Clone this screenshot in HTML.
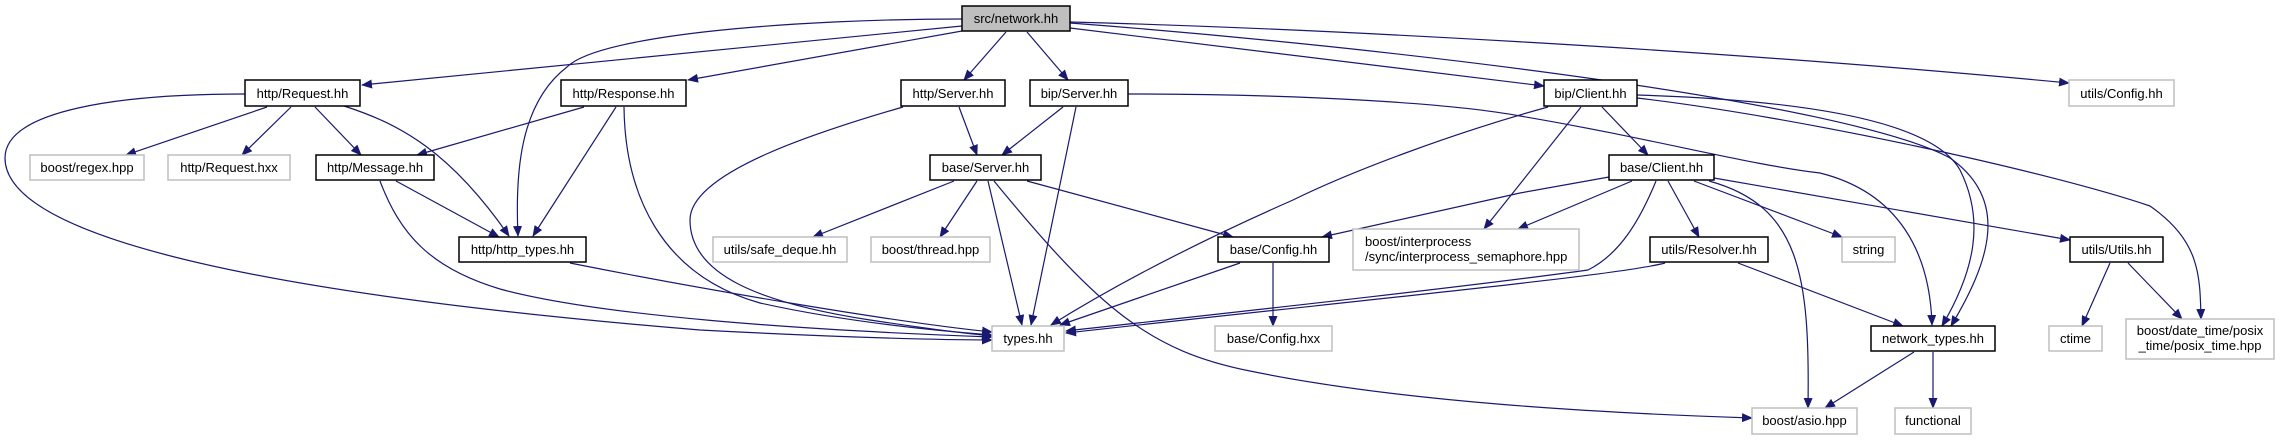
<!DOCTYPE html>
<html><head><meta charset="utf-8"><style>
html,body{margin:0;padding:0;background:#fff;}
svg{display:block;}
text{font-family:"Liberation Sans",sans-serif;font-size:13px;fill:#000;}
.e{fill:none;stroke:#191970;stroke-width:1.2;}
.b{fill:#fff;stroke:#000;stroke-width:1.5;}
.g{fill:#fff;stroke:#bfbfbf;stroke-width:1.5;}
</style></head><body>
<svg width="2293" height="440" viewBox="0 0 2293 440" xmlns="http://www.w3.org/2000/svg">
<defs>
<marker id="a" markerWidth="11" markerHeight="9" refX="10" refY="4.5" orient="auto" markerUnits="userSpaceOnUse">
<path d="M0,0 L11,4.5 L0,9 z" fill="#191970"/>
</marker>
</defs>
<g class="e" marker-end="url(#a)">
<!-- from src/network.hh -->
<path d="M962,26 L362,85"/>
<path d="M962,31 L688,80"/>
<path d="M962,19 C800,19 600,34 567,67 C520,103 515,172 518,236"/>
<path d="M1006,32 L964,80"/>
<path d="M1027,32 L1068,80"/>
<path d="M1070,28 L1544,86"/>
<path d="M1070,22 C1300,28 1700,48 2069,83"/>
<path d="M1070,23 C1400,48 1850,103 1950,158 C2010,200 1990,261 1951,326"/>
<!-- http/Request.hh -->
<path d="M267,107 L126,155"/>
<path d="M291,107 L242,155"/>
<path d="M315,107 L361,155"/>
<path d="M344,106 C400,124 450,151 509,236"/>
<path d="M245,94 C120,94 5,110 5,158 C5,227 200,289 700,330 C850,338 950,340 992,340"/>
<!-- http/Response.hh -->
<path d="M584,107 L417,155"/>
<path d="M616,107 L533,236"/>
<path d="M624,107 C625,193 660,275 760,303 C850,323 940,331 992,335"/>
<!-- http/Message.hh -->
<path d="M396,181 L499,237"/>
<path d="M380,181 C400,234 430,268 500,289 C600,316 800,330 992,337"/>
<!-- http_types -->
<path d="M570,263 C700,289 900,323 992,332"/>
<!-- http/Server.hh -->
<path d="M959,107 L977,155"/>
<path d="M903,107 C820,131 690,172 690,220 C690,275 760,303 870,320 C930,329 960,333 992,336"/>
<!-- bip/Server.hh -->
<path d="M1063,107 L1002,155"/>
<path d="M1076,107 L1031,325"/>
<path d="M1128,94 C1300,94 1450,103 1520,116 C1650,138 1750,165 1820,173 C1900,193 1930,254 1932,325"/>
<!-- base/Server.hh -->
<path d="M954,181 L813,237"/>
<path d="M977,181 L940,237"/>
<path d="M988,181 L1022,325"/>
<path d="M1027,181 L1233,237"/>
<path d="M994,181 C1100,310 1150,351 1250,371 C1400,402 1600,413 1752,418"/>
<!-- base/Config.hh -->
<path d="M1240,263 L1060,325"/>
<path d="M1273,263 L1273,326"/>
<!-- bip/Client.hh -->
<path d="M1548,107 C1450,134 1350,172 1293,200 C1200,241 1120,282 1051,325"/>
<path d="M1581,107 L1520,184 L1484,229"/>
<path d="M1602,107 L1648,155"/>
<path d="M1637,95 C1800,100 1932,120 1960,170 C1985,220 1975,270 1942,326"/>
<path d="M1637,98 C1800,117 2050,172 2150,206 C2200,241 2200,275 2201,319"/>
<!-- base/Client.hh -->
<path d="M1609,177 L1520,193 L1322,237"/>
<path d="M1632,181 L1518,229"/>
<path d="M1656,181 C1640,220 1620,254 1588,270 C1450,289 1200,316 1066,331"/>
<path d="M1668,181 L1699,237"/>
<path d="M1709,181 C1800,206 1810,275 1808,408"/>
<path d="M1694,181 L1842,237"/>
<path d="M1714,178 L2070,240"/>
<!-- utils/Resolver -->
<path d="M1665,263 C1620,275 1400,296 1066,333"/>
<path d="M1738,263 L1903,326"/>
<!-- utils/Utils -->
<path d="M2110,263 L2082,326"/>
<path d="M2128,263 L2182,319"/>
<!-- network_types -->
<path d="M1914,352 L1825,408"/>
<path d="M1933,352 L1933,408"/>
</g>
<!-- nodes -->
<rect x="962" y="6" width="108" height="25" fill="#bfbfbf" stroke="#000" stroke-width="1.5"/>
<text x="1016" y="23" text-anchor="middle">src/network.hh</text>

<rect class="b" x="245" y="80" width="115" height="26"/><text x="302.5" y="98" text-anchor="middle">http/Request.hh</text>
<rect class="b" x="561" y="80" width="125" height="26"/><text x="623.5" y="98" text-anchor="middle">http/Response.hh</text>
<rect class="b" x="901" y="80" width="104" height="26"/><text x="953" y="98" text-anchor="middle">http/Server.hh</text>
<rect class="b" x="1030" y="80" width="98" height="26"/><text x="1079" y="98" text-anchor="middle">bip/Server.hh</text>
<rect class="b" x="1544" y="80" width="93" height="26"/><text x="1590.5" y="98" text-anchor="middle">bip/Client.hh</text>
<rect class="g" x="2069" y="80" width="105" height="26"/><text x="2121.5" y="98" text-anchor="middle">utils/Config.hh</text>

<rect class="g" x="30" y="155" width="114" height="25"/><text x="87" y="172" text-anchor="middle">boost/regex.hpp</text>
<rect class="g" x="168" y="155" width="122" height="25"/><text x="229" y="172" text-anchor="middle">http/Request.hxx</text>
<rect class="b" x="316" y="155" width="118" height="25"/><text x="375" y="172" text-anchor="middle">http/Message.hh</text>
<rect class="b" x="930" y="155" width="111" height="25"/><text x="985.5" y="172" text-anchor="middle">base/Server.hh</text>
<rect class="b" x="1609" y="155" width="105" height="25"/><text x="1661.5" y="172" text-anchor="middle">base/Client.hh</text>

<rect class="b" x="459" y="237" width="127" height="25"/><text x="522.5" y="254" text-anchor="middle">http/http_types.hh</text>
<rect class="g" x="713" y="237" width="134" height="25"/><text x="780" y="254" text-anchor="middle">utils/safe_deque.hh</text>
<rect class="g" x="871" y="237" width="119" height="25"/><text x="930.5" y="254" text-anchor="middle">boost/thread.hpp</text>
<rect class="b" x="1218" y="237" width="111" height="25"/><text x="1273.5" y="254" text-anchor="middle">base/Config.hh</text>
<rect class="g" x="1353" y="229" width="226" height="41"/>
<text x="1365" y="246">boost/interprocess</text>
<text x="1365" y="261">/sync/interprocess_semaphore.hpp</text>
<rect class="b" x="1650" y="237" width="118" height="25"/><text x="1709" y="254" text-anchor="middle">utils/Resolver.hh</text>
<rect class="g" x="1842" y="237" width="53" height="25"/><text x="1868.5" y="254" text-anchor="middle">string</text>
<rect class="b" x="2070" y="237" width="93" height="25"/><text x="2116.5" y="254" text-anchor="middle">utils/Utils.hh</text>

<rect class="g" x="992" y="326" width="72" height="25"/><text x="1028" y="343" text-anchor="middle">types.hh</text>
<rect class="g" x="1215" y="326" width="117" height="25"/><text x="1273.5" y="343" text-anchor="middle">base/Config.hxx</text>
<rect class="b" x="1871" y="326" width="124" height="25"/><text x="1933" y="343" text-anchor="middle">network_types.hh</text>
<rect class="g" x="2049" y="326" width="53" height="25"/><text x="2075.5" y="343" text-anchor="middle">ctime</text>
<rect class="g" x="2126" y="319" width="148" height="40"/>
<text x="2200" y="335" text-anchor="middle">boost/date_time/posix</text>
<text x="2200" y="350" text-anchor="middle">_time/posix_time.hpp</text>

<rect class="g" x="1752" y="408" width="105" height="26"/><text x="1804.5" y="425" text-anchor="middle">boost/asio.hpp</text>
<rect class="g" x="1895" y="408" width="76" height="26"/><text x="1933" y="425" text-anchor="middle">functional</text>
</svg>
</body></html>
